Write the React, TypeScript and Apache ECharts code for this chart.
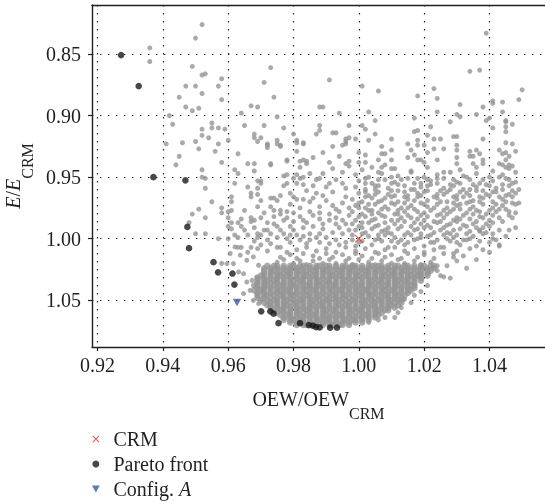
import React, { useEffect, useRef } from "react";
import * as echarts from "echarts";

// ---- axis settings ----
const xTicks = [0.92, 0.94, 0.96, 0.98, 1.0, 1.02, 1.04];
const yTicks = [0.85, 0.9, 0.95, 1.0, 1.05];
const xRange = [0.9183, 1.057];
const yRange = [0.8101, 1.088];

// ---- highlighted points ----
const crmPoint = [[1.0, 1.0]];
const configA = [[0.9627, 1.0518]];
const paretoFront = [
  [0.9272, 0.8508], [0.9326, 0.876], [0.9371, 0.95], [0.9469, 0.9526],
  [0.9475, 0.9904], [0.948, 1.0077], [0.9555, 1.0191], [0.9569, 1.0273],
  [0.9613, 1.0283], [0.9619, 1.0373], [0.9701, 1.059], [0.9729, 1.059],
  [0.9739, 1.0609], [0.9754, 1.0686], [0.982, 1.0686], [0.9847, 1.0702],
  [0.9859, 1.0707], [0.9869, 1.0718], [0.988, 1.0721], [0.9912, 1.0723],
  [0.9933, 1.0723],
];

// ---- design samples, read one by one in the sparse regions ----
const sparseUpper = [
  [0.936,0.845],[0.936,0.856],[0.952,0.826],[0.950,0.837],[0.949,0.860],[0.952,0.867],[0.953,0.866],[0.958,0.870],
  [0.947,0.876],[0.950,0.876],[0.957,0.876],[0.952,0.882],[0.945,0.885],[0.958,0.887],[0.947,0.893],[0.949,0.896],
  [0.951,0.894],[0.942,0.900],[0.943,0.907],[0.955,0.906],[0.952,0.911],[0.955,0.910],[0.957,0.910],[0.959,0.911],
  [0.952,0.916],[0.954,0.918],[0.941,0.923],[0.946,0.922],[0.950,0.921],[0.957,0.923],[0.951,0.927],[0.956,0.929],
  [0.945,0.933],[0.958,0.938],[0.944,0.940],[0.952,0.944],[0.952,0.950],[0.953,0.951],[0.953,0.959],
  [0.973,0.861],[0.971,0.873],[0.974,0.885],[0.967,0.892],[0.969,0.893],[0.964,0.898],[0.975,0.901],[0.965,0.908],
  [0.971,0.908],[0.968,0.915],[0.968,0.918],[0.969,0.921],[0.972,0.923],[0.975,0.923],[0.960,0.920],[0.976,0.925],
  [0.963,0.931],[0.966,0.939],[0.968,0.939],[0.973,0.940],[0.962,0.944],[0.963,0.947],[0.968,0.945],[0.969,0.953],
  [0.970,0.953],[0.962,0.955],[0.966,0.958],[0.969,0.959],[0.967,0.963],[0.969,0.964],[0.961,0.966],[0.973,0.967],
];
const sparseRight = [
  [1.039,0.833],[1.034,0.864],[1.037,0.863],[0.991,0.871],[1.001,0.876],[1.006,0.880],[1.018,0.884],[1.023,0.878],
  [1.024,0.886],[1.050,0.879],[1.049,0.887],[1.041,0.888],[1.041,0.890],[1.044,0.889],[1.031,0.891],[0.988,0.893],
  [0.989,0.893],[1.038,0.893],[1.024,0.897],[1.003,0.897],[0.994,0.898],[1.030,0.899],[1.031,0.901],[1.036,0.899],
  [1.044,0.897],[1.040,0.902],[1.039,0.904],[1.045,0.904],[1.045,0.905],[1.017,0.902],[1.005,0.904],[1.028,0.905],
  [0.988,0.908],[0.988,0.912],[0.987,0.915],[1.001,0.908],[1.002,0.911],[0.997,0.908],[1.022,0.909],[0.977,0.910],
  [1.041,0.910],[1.047,0.907],[1.045,0.909],[1.045,0.913],[1.017,0.913],[1.018,0.912],[0.993,0.914],[1.005,0.915],
  [0.980,0.915],[1.021,0.916],[1.029,0.917],[1.030,0.917],[0.997,0.918],[0.996,0.919],[0.996,0.923],[0.999,0.919],
  [1.003,0.920],[1.010,0.919],[1.018,0.920],[1.018,0.924],[1.023,0.919],[1.025,0.919],[0.975,0.920],[0.981,0.920],
  [0.981,0.922],[0.983,0.923],[1.038,0.919],[1.045,0.922],[1.047,0.923],[1.007,0.925],[1.010,0.928],[0.992,0.925],
  [1.015,0.923],[1.020,0.924],[1.023,0.927],[1.026,0.927],[1.030,0.924],[1.030,0.928],[0.981,0.929],[1.000,0.930],
  [1.007,0.931],[1.008,0.931],[0.989,0.930],[1.016,0.928],[1.017,0.932],[1.021,0.930],[1.034,0.929],[1.036,0.928],
  [1.043,0.928],[1.048,0.929],[1.044,0.931],[1.045,0.930],[1.046,0.933],[1.045,0.936],[1.037,0.931],[0.978,0.936],
  [0.982,0.937],[0.984,0.937],[0.984,0.939],[0.986,0.934],[0.994,0.933],[1.002,0.932],[0.996,0.939],[0.997,0.937],
  [0.997,0.941],[0.991,0.938],[0.992,0.943],[1.000,0.938],[1.002,0.938],[1.006,0.936],[1.010,0.936],[1.015,0.934],
  [1.018,0.936],[1.019,0.936],[1.020,0.938],[1.024,0.936],[1.030,0.934],[1.030,0.939],[1.034,0.933],[1.035,0.933],
  [1.035,0.939],[1.038,0.936],[1.038,0.939],[1.043,0.939],[1.044,0.940],[1.046,0.940],[1.045,0.942],[0.973,0.939],
  [1.047,0.941],[1.004,0.942],[1.007,0.942],[1.008,0.940],[1.010,0.943],
];
const sparseLeftMid = [
  [0.955,0.970],[0.958,0.975],[0.958,0.979],[0.951,0.976],[0.949,0.980],[0.948,0.987],[0.953,0.983],[0.950,0.996],
  [0.953,0.996],[0.957,1.000],[0.960,1.000],[0.960,0.978],[0.961,0.977],[0.961,0.970],[0.960,0.983],[0.961,0.987],
  [0.961,0.992],[0.960,0.990],[0.962,0.997],[0.963,0.999],[0.964,1.007],[0.963,0.987],[0.964,0.990],[0.970,0.955],
  [0.967,0.966],[0.970,0.969],[0.969,0.974],[0.967,0.983],[0.967,0.986],[0.968,0.985],[0.970,0.983],[0.965,0.993],
  [0.969,0.996],[0.969,0.999],[0.971,0.993],[0.972,0.993],[0.973,0.996],[0.972,1.001],[0.972,0.924],[0.972,0.926],
  [0.976,0.924],[0.970,0.918],[0.974,0.967],[0.975,0.969],[0.976,0.977],[0.976,0.980],[0.974,0.977],[0.976,0.965],
  [0.977,0.957],[0.978,0.955],[0.977,0.949],[0.978,0.937],[0.983,0.922],[0.983,0.936],[0.992,0.914],[0.995,0.924],
  [0.996,0.921],[0.982,0.942],[0.978,0.948],[0.981,0.948],[0.980,0.951],[0.982,0.951],[0.983,0.950],[0.981,0.955],
  [0.983,0.956],[0.984,0.961],[0.979,0.963],[0.980,0.966],[0.981,0.968],[0.983,0.968],[0.985,0.970],[0.989,0.965],
  [0.990,0.969],[0.993,0.976],[0.994,0.978],[0.996,0.966],[0.995,0.955],[0.991,0.955],[0.995,0.946],[0.989,0.947],
  [0.988,0.951],[0.985,0.947],[0.974,0.988],[0.975,0.990],[0.977,0.985],[0.978,0.983],[0.980,0.979],[0.982,0.982],
  [0.983,0.985],[0.984,0.987],[0.985,0.978],[0.986,0.981],[0.988,0.984],[0.989,0.988],[0.989,0.992],[0.991,0.985],
  [0.993,0.988],[0.995,0.985],[0.996,0.988],[0.976,0.993],[0.977,0.996],[0.978,1.000],[0.980,0.993],[0.981,0.997],
  [0.982,1.001],[0.985,0.996],[0.985,1.001],[0.987,0.999],[0.990,0.999],[0.991,1.004],[0.993,1.001],[0.995,0.996],
  [0.996,1.003],[0.963,1.007],[0.967,1.007],[0.970,1.005],[0.973,1.004],[0.976,1.007],
  [0.987,0.952],[0.990,0.958],[0.993,0.952],[0.996,0.959],[0.986,0.957],[0.992,0.962],[0.987,0.963],[0.995,0.971],
  [0.992,0.973],[0.988,0.974],[0.986,0.967],[0.997,0.975],[0.979,0.972],[0.982,0.975],[0.978,0.978],[0.988,0.979],
  [0.991,0.980],[0.997,0.981],[0.993,0.983],[0.980,0.986],[0.986,0.990],[0.983,0.991],[0.979,0.990],[0.992,0.995],
  [0.988,0.996],[0.997,0.993],[0.994,0.991],[0.979,0.997],[0.983,0.998],[0.975,0.999],[0.988,1.003],[0.984,1.004],
  [0.979,1.003],[0.998,1.001],[0.994,1.005],[0.970,0.997],[0.968,1.002],[0.966,0.997],[0.974,0.982],[0.971,0.979],
  [0.972,0.987],[0.968,0.991],[0.973,0.974],[0.965,0.977],[0.964,0.984],
];
const sparseEdges = [
  [0.9647,1.0446],[0.9667,1.042],[0.9657,1.0352],[0.9673,1.0338],[0.9688,1.0311],[0.9677,1.0501],[0.9693,1.0528],
  [0.9637,1.0134],[0.9616,1.0202],[0.9596,1.0202],[0.958,1.020],[0.9632,1.027],[0.9647,1.0284],[0.9606,1.012],
  [0.9621,1.0067],[0.9657,1.0175],[0.9677,1.0148],[0.9693,1.0216],
  [1.040,1.011],[1.043,1.006],[1.028,1.032],[1.026,1.031],[1.014,1.049],[1.011,1.064],[1.003,1.068],[1.033,1.024],
  [1.036,1.017],[1.046,0.993],[1.048,0.991],[1.049,0.971],[1.024,1.026],[1.027,1.022],[1.030,1.018],[1.032,1.014],
  [1.029,1.012],[1.025,1.030],[1.021,1.038],[1.019,1.043],[1.017,1.046],[1.016,1.052],[1.013,1.056],[1.012,1.060],
  [1.008,1.064],[1.006,1.066],
];
// moderately dense part right of the CRM (OEW, E)
const cloudRight = [
  [0.999,1.006],[1.001,1.002],[1.004,1.005],[1.007,1.002],[1.009,1.007],[1.012,1.003],[1.014,1.005],[1.017,1.001],[1.020,1.006],[1.022,1.003],[1.025,1.007],[1.028,1.002],[1.031,1.005],[1.033,1.001],[1.036,1.006],[1.040,1.003],[1.043,1.005],
  [0.998,0.997],[1.003,0.998],[1.005,1.001],[1.008,0.997],[1.011,0.999],[1.013,1.001],[1.016,0.997],[1.018,1.000],[1.021,0.998],[1.024,1.001],[1.026,0.997],[1.029,0.999],[1.032,1.001],[1.035,0.998],[1.038,0.996],[1.041,1.000],[1.045,0.998],
  [0.999,0.993],[1.002,0.995],[1.004,0.992],[1.007,0.994],[1.010,0.996],[1.012,0.992],[1.015,0.995],[1.017,0.993],[1.020,0.991],[1.023,0.995],[1.025,0.993],[1.028,0.996],[1.031,0.992],[1.034,0.994],[1.036,0.991],[1.039,0.995],[1.043,0.993],
  [0.998,0.988],[1.000,0.990],[1.003,0.987],[1.006,0.989],[1.009,0.991],[1.011,0.988],[1.014,0.986],[1.016,0.990],[1.019,0.988],[1.022,0.991],[1.024,0.987],[1.027,0.989],[1.030,0.986],[1.033,0.990],[1.035,0.988],[1.038,0.991],[1.041,0.987],
  [0.999,0.985],[1.002,0.982],[1.005,0.984],[1.007,0.981],[1.010,0.985],[1.013,0.983],[1.015,0.981],[1.018,0.984],[1.021,0.982],[1.023,0.986],[1.026,0.983],[1.029,0.985],[1.032,0.981],[1.034,0.984],[1.037,0.982],[1.040,0.985],[1.043,0.983],[1.046,0.981],
  [0.998,0.978],[1.001,0.980],[1.003,0.977],[1.006,0.979],[1.009,0.976],[1.011,0.980],[1.014,0.978],[1.017,0.976],[1.020,0.979],[1.022,0.977],[1.025,0.980],[1.028,0.978],[1.031,0.976],[1.033,0.979],[1.036,0.977],[1.039,0.980],[1.042,0.978],[1.045,0.976],[1.048,0.979],
  [0.999,0.973],[1.002,0.975],[1.005,0.972],[1.008,0.974],[1.010,0.971],[1.013,0.975],[1.016,0.973],[1.019,0.971],[1.021,0.974],[1.024,0.972],[1.027,0.975],[1.030,0.973],[1.033,0.971],[1.035,0.974],[1.038,0.972],[1.041,0.975],[1.044,0.973],[1.047,0.971],
  [0.998,0.968],[1.001,0.970],[1.004,0.967],[1.007,0.969],[1.010,0.966],[1.012,0.970],[1.015,0.968],[1.018,0.966],[1.021,0.969],[1.024,0.967],[1.027,0.970],[1.030,0.968],[1.032,0.966],[1.035,0.969],[1.038,0.967],[1.041,0.970],[1.044,0.968],[1.047,0.966],
  [1.000,0.963],[1.003,0.965],[1.006,0.962],[1.009,0.964],[1.012,0.961],[1.015,0.965],[1.018,0.963],[1.021,0.961],[1.024,0.964],[1.027,0.962],[1.030,0.965],[1.033,0.963],[1.036,0.961],[1.039,0.964],[1.042,0.962],[1.045,0.965],[1.048,0.963],
  [0.999,0.958],[1.002,0.960],[1.006,0.957],[1.009,0.959],[1.012,0.956],[1.016,0.960],[1.019,0.958],[1.022,0.956],[1.026,0.959],[1.029,0.957],[1.032,0.960],[1.036,0.958],[1.039,0.956],[1.042,0.959],[1.046,0.957],[1.049,0.960],
  [1.000,0.953],[1.004,0.955],[1.008,0.952],[1.011,0.954],[1.015,0.951],[1.019,0.955],[1.022,0.953],[1.026,0.951],[1.030,0.954],[1.034,0.952],[1.037,0.955],[1.041,0.953],[1.045,0.951],[1.048,0.954],
  [0.999,0.948],[1.003,0.950],[1.007,0.947],[1.012,0.949],[1.016,0.946],[1.020,0.950],[1.024,0.948],[1.028,0.946],[1.032,0.949],[1.036,0.947],[1.040,0.950],[1.044,0.948],[1.048,0.946],
  [1.001,0.944],[1.006,0.946],[1.011,0.943],[1.016,0.945],[1.021,0.942],[1.026,0.946],[1.031,0.944],[1.036,0.942],[1.041,0.945],[1.046,0.943],
];
const cloudRightFill = [
  [1.000,1.003],[1.006,1.000],[1.010,1.002],[1.015,1.003],[1.019,0.999],[1.023,1.003],[1.027,1.000],[1.030,1.003],[1.034,1.000],[1.037,1.002],[1.042,1.001],
  [1.001,0.996],[1.006,0.997],[1.009,0.995],[1.014,0.997],[1.019,0.996],[1.022,0.997],[1.027,0.995],[1.030,0.997],[1.033,0.996],[1.037,0.994],[1.041,0.996],
  [1.001,0.991],[1.005,0.990],[1.008,0.993],[1.013,0.990],[1.018,0.992],[1.021,0.989],[1.026,0.991],[1.029,0.993],[1.032,0.989],[1.037,0.993],[1.040,0.990],
  [1.001,0.987],[1.004,0.985],[1.008,0.987],[1.012,0.985],[1.017,0.987],[1.020,0.985],[1.025,0.986],[1.028,0.988],[1.031,0.984],[1.036,0.986],[1.039,0.988],[1.044,0.986],
  [1.000,0.982],[1.004,0.980],[1.008,0.982],[1.012,0.980],[1.016,0.983],[1.019,0.981],[1.024,0.981],[1.027,0.980],[1.030,0.983],[1.035,0.980],[1.038,0.983],[1.041,0.981],[1.047,0.983],
  [1.000,0.975],[1.004,0.977],[1.007,0.976],[1.012,0.977],[1.015,0.975],[1.018,0.978],[1.023,0.975],[1.026,0.977],[1.029,0.976],[1.034,0.976],[1.037,0.978],[1.040,0.977],[1.043,0.976],[1.046,0.978],
  [1.000,0.971],[1.003,0.972],[1.006,0.970],[1.011,0.972],[1.014,0.971],[1.017,0.969],[1.020,0.972],[1.025,0.970],[1.029,0.971],[1.031,0.972],[1.034,0.970],[1.037,0.970],[1.042,0.972],[1.045,0.970],[1.048,0.972],
  [1.002,0.966],[1.005,0.964],[1.008,0.967],[1.011,0.965],[1.014,0.966],[1.019,0.965],[1.023,0.966],[1.026,0.964],[1.029,0.966],[1.034,0.965],[1.037,0.966],[1.040,0.965],[1.043,0.966],[1.046,0.964],
  [1.002,0.962],[1.005,0.960],[1.010,0.961],[1.014,0.962],[1.017,0.960],[1.020,0.962],[1.025,0.961],[1.028,0.960],[1.031,0.962],[1.034,0.960],[1.038,0.961],[1.041,0.962],[1.044,0.960],[1.047,0.961],
  [1.002,0.955],[1.005,0.957],[1.010,0.955],[1.014,0.957],[1.017,0.955],[1.021,0.957],[1.024,0.955],[1.028,0.956],[1.031,0.955],[1.035,0.956],[1.040,0.957],[1.044,0.956],[1.047,0.955],
  [1.002,0.951],[1.006,0.952],[1.010,0.950],[1.013,0.952],[1.018,0.951],[1.021,0.952],[1.024,0.951],[1.029,0.952],[1.033,0.950],[1.038,0.952],[1.043,0.950],[1.046,0.952],
];
// ragged upper edge of the dense cluster (OEW, E)
const cloudTop = [
  [0.975,1.019],[0.977,1.017],[0.980,1.020],[0.982,1.018],[0.984,1.021],[0.986,1.018],[0.989,1.020],[0.991,1.017],[0.993,1.020],[0.996,1.018],[0.998,1.021],[1.000,1.017],[1.003,1.019],[1.005,1.021],[1.007,1.018],[1.010,1.020],[1.012,1.017],[1.014,1.020],[1.017,1.018],[1.019,1.021],[1.022,1.019],[1.024,1.022],
  [0.976,1.015],[0.979,1.013],[0.981,1.016],[0.983,1.012],[0.986,1.014],[0.988,1.016],[0.990,1.012],[0.992,1.015],[0.995,1.013],[0.997,1.016],[0.999,1.012],[1.001,1.014],[1.004,1.016],[1.006,1.012],[1.008,1.015],[1.010,1.013],[1.013,1.016],[1.015,1.012],[1.018,1.015],[1.020,1.013],[1.023,1.016],[1.026,1.012],[1.029,1.015],
  [0.966,1.011],[0.969,1.008],[0.972,1.010],[0.975,1.007],[0.978,1.011],[0.981,1.009],[0.984,1.007],[0.987,1.010],[0.990,1.008],[0.993,1.011],[0.996,1.007],[0.999,1.010],[1.002,1.008],[1.005,1.011],[1.008,1.009],[1.011,1.007],[1.014,1.010],[1.017,1.008],[1.020,1.011],[1.023,1.009],[1.026,1.007],[1.030,1.010],[1.034,1.008],[1.038,1.009],
];
// solid core of the cloud, read row by row: [E/E_CRM, OEW values]
const denseRows: [number, number[]][] = [
  [1.070, [0.981,0.983,0.984,0.986,0.987,0.989,0.991,0.992,0.994,0.995,0.997]],
  [1.066, [0.977,0.979,0.980,0.982,0.983,0.985,0.987,0.988,0.990,0.991,0.993,0.995,0.996,0.998,0.999,1.001,1.003]],
  [1.062, [0.976,0.978,0.979,0.981,0.982,0.984,0.986,0.987,0.989,0.990,0.992,0.994,0.995,0.997,0.998,1.000,1.002,1.003,1.005,1.006]],
  [1.058, [0.974,0.976,0.977,0.979,0.981,0.982,0.984,0.985,0.987,0.989,0.990,0.992,0.993,0.995,0.997,0.998,1.000,1.001,1.003,1.005,1.006,1.008,1.009]],
  [1.054, [0.972,0.973,0.975,0.977,0.978,0.980,0.981,0.983,0.985,0.986,0.988,0.989,0.991,0.993,0.994,0.996,0.997,0.999,1.001,1.002,1.004,1.005,1.007,1.009,1.010,1.012]],
  [1.050, [0.970,0.972,0.974,0.975,0.977,0.978,0.980,0.982,0.983,0.985,0.986,0.988,0.990,0.991,0.993,0.994,0.996,0.998,0.999,1.001,1.002,1.004,1.006,1.007,1.009,1.010,1.012,1.013]],
  [1.046, [0.969,0.971,0.972,0.974,0.976,0.977,0.979,0.980,0.982,0.984,0.985,0.987,0.988,0.990,0.992,0.993,0.995,0.996,0.998,1.000,1.001,1.003,1.004,1.006,1.008,1.009,1.011,1.012,1.014]],
  [1.042, [0.968,0.970,0.971,0.973,0.975,0.976,0.978,0.979,0.981,0.983,0.984,0.986,0.987,0.989,0.991,0.992,0.994,0.995,0.997,0.999,1.000,1.002,1.003,1.005,1.007,1.008,1.010,1.011,1.013,1.015,1.016]],
  [1.038, [0.968,0.969,0.971,0.972,0.974,0.976,0.977,0.979,0.980,0.982,0.984,0.985,0.987,0.988,0.990,0.992,0.993,0.995,0.996,0.998,1.000,1.001,1.003,1.004,1.006,1.008,1.009,1.011,1.012,1.014,1.016,1.017]],
  [1.034, [0.969,0.971,0.972,0.974,0.975,0.977,0.979,0.980,0.982,0.983,0.985,0.987,0.988,0.990,0.991,0.993,0.995,0.996,0.998,0.999,1.001,1.003,1.004,1.006,1.007,1.009,1.011,1.012,1.014,1.015,1.017,1.019]],
  [1.030, [0.970,0.971,0.973,0.975,0.976,0.978,0.979,0.981,0.983,0.984,0.986,0.987,0.989,0.991,0.992,0.994,0.995,0.997,0.999,1.000,1.002,1.003,1.005,1.007,1.008,1.010,1.011,1.013,1.015,1.016,1.018,1.019,1.021]],
  [1.026, [0.971,0.973,0.974,0.976,0.978,0.979,0.981,0.982,0.984,0.986,0.987,0.989,0.990,0.992,0.994,0.995,0.997,0.998,1.000,1.002,1.003,1.005,1.006,1.008,1.010,1.011,1.013,1.014,1.016,1.018,1.019,1.021,1.022]],
  [1.022, [0.972,0.974,0.975,0.977,0.979,0.980,0.982,0.983,0.985,0.987,0.988,0.990,0.991,0.993,0.995,0.996,0.998,0.999,1.001,1.003,1.004,1.006,1.007,1.009,1.011,1.012,1.014,1.015,1.017,1.019,1.020,1.022,1.023]],
  [1.068, [0.979,0.981,0.983,0.985,0.987,0.989,0.991,0.993,0.995,0.997,0.999,1.001]],
  [1.064, [0.977,0.979,0.981,0.983,0.985,0.987,0.989,0.991,0.993,0.995,0.997,0.999,1.001,1.003,1.005]],
  [1.060, [0.975,0.977,0.979,0.981,0.983,0.985,0.987,0.989,0.991,0.993,0.995,0.997,0.999,1.001,1.003,1.005,1.007]],
  [1.056, [0.973,0.975,0.977,0.979,0.981,0.983,0.985,0.987,0.989,0.991,0.993,0.995,0.997,0.999,1.001,1.003,1.005,1.007,1.009,1.011]],
  [1.052, [0.971,0.973,0.975,0.977,0.979,0.981,0.983,0.985,0.987,0.989,0.991,0.993,0.995,0.997,0.999,1.001,1.003,1.005,1.007,1.009,1.011,1.013]],
  [1.048, [0.969,0.971,0.973,0.975,0.977,0.979,0.981,0.983,0.985,0.987,0.989,0.991,0.993,0.995,0.997,0.999,1.001,1.003,1.005,1.007,1.009,1.011,1.013]],
  [1.044, [0.969,0.971,0.973,0.975,0.977,0.979,0.981,0.983,0.985,0.987,0.989,0.991,0.993,0.995,0.997,0.999,1.001,1.003,1.005,1.007,1.009,1.011,1.013,1.015]],
  [1.040, [0.969,0.971,0.973,0.975,0.977,0.979,0.981,0.983,0.985,0.987,0.989,0.991,0.993,0.995,0.997,0.999,1.001,1.003,1.005,1.007,1.009,1.011,1.013,1.015,1.017]],
  [1.036, [0.969,0.971,0.973,0.975,0.977,0.979,0.981,0.983,0.985,0.987,0.989,0.991,0.993,0.995,0.997,0.999,1.001,1.003,1.005,1.007,1.009,1.011,1.013,1.015,1.017]],
  [1.032, [0.969,0.971,0.973,0.975,0.977,0.979,0.981,0.983,0.985,0.987,0.989,0.991,0.993,0.995,0.997,0.999,1.001,1.003,1.005,1.007,1.009,1.011,1.013,1.015,1.017,1.019]],
  [1.028, [0.971,0.973,0.975,0.977,0.979,0.981,0.983,0.985,0.987,0.989,0.991,0.993,0.995,0.997,0.999,1.001,1.003,1.005,1.007,1.009,1.011,1.013,1.015,1.017,1.019,1.021]],
  [1.024, [0.971,0.973,0.975,0.977,0.979,0.981,0.983,0.985,0.987,0.989,0.991,0.993,0.995,0.997,0.999,1.001,1.003,1.005,1.007,1.009,1.011,1.013,1.015,1.017,1.019,1.021,1.023]],
];

const FONT = '"Liberation Serif", "Times New Roman", "DejaVu Serif", serif';
const INK = "#231f20";
const GRAY = "#959595";
const CROSS = "path://M1,0 L5,4 L9,0 L10,1 L6,5 L10,9 L9,10 L5,6 L1,10 L0,9 L4,5 L0,1 Z";
const TRI = "path://M0,0 L10,0 L5,9 Z";

function rowsToPoints(rows: [number, number[]][]) {
  const out: number[][] = [];
  rows.forEach(([y, xs]) => xs.forEach((x) => out.push([x, y])));
  return out;
}

export default function App() {
  const ref = useRef<HTMLDivElement>(null);
  useEffect(() => {
    if (!ref.current) return;
    const chart = echarts.init(ref.current, undefined, { renderer: "svg" });
    const gray = [
      ...sparseUpper,
      ...sparseRight,
      ...sparseLeftMid,
      ...sparseEdges,
      ...cloudRight,
      ...cloudRightFill,
      ...cloudTop,
    ];
    const core = rowsToPoints(denseRows);
    const axisLine = { show: true, lineStyle: { color: INK, width: 1.4 } };
    const dotted = { show: true, lineStyle: { color: "#222", width: 1.2, type: [1.4, 6.6] as any } };
    chart.setOption({
      animation: false,
      grid: { left: 92, top: 5, right: 0, bottom: 157, outerBoundsMode: "none", containLabel: false },
      xAxis: [
        {
          type: "value",
          min: xRange[0],
          max: xRange[1],
          axisLine,
          axisTick: { show: true, length: 4, customValues: xTicks, lineStyle: { color: INK, width: 1.2 } },
          axisLabel: {
            customValues: xTicks,
            formatter: (v: number) => v.toFixed(2),
            fontFamily: FONT,
            fontSize: 20,
            color: INK,
            margin: 8,
          },
          splitLine: dotted,
          name: "{m|OEW/OEW}{s|CRM}",
          nameLocation: "middle",
          nameGap: 42,
          nameTextStyle: {
            fontFamily: FONT,
            fontSize: 20,
            color: INK,
            rich: {
              m: { fontFamily: FONT, fontSize: 20, color: INK, verticalAlign: "top" },
              s: { fontFamily: FONT, fontSize: 16, color: INK, lineHeight: 32, verticalAlign: "bottom" },
            },
          },
        },
        {
          type: "value",
          position: "top",
          min: xRange[0],
          max: xRange[1],
          axisLine,
          axisTick: { show: false },
          axisLabel: { show: false },
          splitLine: { show: false },
        },
      ],
      yAxis: {
        type: "value",
        inverse: true,
        min: yRange[0],
        max: yRange[1],
        axisLine,
        axisTick: { show: true, length: 4, customValues: yTicks, lineStyle: { color: INK, width: 1.2 } },
        axisLabel: {
          customValues: yTicks,
          formatter: (v: number) => v.toFixed(2),
          fontFamily: FONT,
          fontSize: 20,
          color: INK,
          margin: 11,
        },
        splitLine: dotted,
        name: "{i|E}{m|/}{i|E}{s|CRM}",
        nameLocation: "middle",
        nameGap: 45,
        nameTextStyle: {
          fontFamily: FONT,
          fontSize: 20,
          color: INK,
          rich: {
            i: { fontFamily: FONT, fontSize: 20, fontStyle: "italic", color: INK, verticalAlign: "top" },
            m: { fontFamily: FONT, fontSize: 20, color: INK, verticalAlign: "top" },
            s: { fontFamily: FONT, fontSize: 16, color: INK, lineHeight: 32, verticalAlign: "bottom" },
          },
        },
      },
      legend: {
        orient: "vertical",
        left: 92,
        top: 429,
        padding: 0,
        itemWidth: 25,
        itemHeight: 7,
        itemGap: 5,
        data: [
          { name: "CRM", icon: CROSS },
          { name: "Pareto front", icon: "circle" },
          { name: "Config. A", icon: TRI },
        ],
        formatter: (name: string) => (name === "Config. A" ? "Config. {i|A}" : name),
        textStyle: {
          fontFamily: FONT,
          fontSize: 20,
          lineHeight: 20,
          color: INK,
          rich: {
            i: { fontFamily: FONT, fontSize: 20, lineHeight: 20, fontStyle: "italic", color: INK },
          },
        },
      },
      series: [
        {
          name: "Designs",
          type: "scatter",
          data: gray,
          symbol: "circle",
          symbolSize: 5,
          itemStyle: { color: GRAY },
          silent: true,
          z: 1,
        },
        {
          name: "Designs (core)",
          type: "scatter",
          data: core,
          symbol: "circle",
          symbolSize: 6.6,
          itemStyle: { color: GRAY },
          silent: true,
          z: 1,
        },
        {
          name: "Pareto front",
          type: "scatter",
          data: paretoFront,
          symbol: "circle",
          symbolSize: 6.6,
          itemStyle: { color: "#1c1a1b" },
          z: 3,
        },
        {
          name: "Config. A",
          type: "scatter",
          data: configA,
          symbol: TRI,
          symbolSize: [8.5, 7.5],
          itemStyle: { color: "#3b57a6" },
          z: 4,
        },
        {
          name: "CRM",
          type: "scatter",
          data: crmPoint,
          symbol: CROSS,
          symbolSize: 8,
          itemStyle: { color: "#e8262d" },
          z: 5,
        },
      ],
    });
    return () => chart.dispose();
  }, []);
  return (
    <div
      ref={ref}
      style={{ position: "fixed", left: 0, top: 0, width: 545, height: 504 }}
    />
  );
}
